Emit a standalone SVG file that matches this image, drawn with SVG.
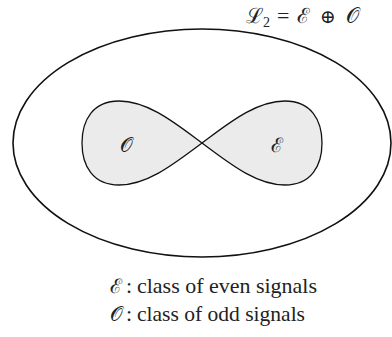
<svg xmlns="http://www.w3.org/2000/svg" width="392" height="337" viewBox="0 0 392 337">
<style>
.t{font-family:"Liberation Serif","Times New Roman",serif;fill:#222}
.m{font-family:"DejaVu Serif","Liberation Serif",serif;fill:#222}
.lobe{fill:#ebebeb;stroke:#111;stroke-width:1.3}
</style>
<rect width="392" height="337" fill="#fff"/>
<g id="space">
<ellipse cx="202" cy="143" rx="189" ry="114" fill="none" stroke="#111" stroke-width="1.6"/>
<text class="m" x="246" y="23" font-size="21">ℒ</text>
<text class="t" x="263" y="27" font-size="14">2</text>
<text class="t" x="277" y="23" font-size="22">=</text>
<text class="m" x="297" y="23" font-size="21">ℰ</text>
<text class="m" x="328" y="23" font-size="19" text-anchor="middle" font-weight="300">⊕</text>
<text class="m" x="346" y="23" font-size="21">𝒪</text>
</g>
<g id="odd">
<path class="lobe" d="M202,143 C175,123 148,101 119,101 C93,101 82,120 82,143 C82,166 93,185 119,185 C148,185 175,163 202,143 Z"/>
<text class="m" x="126" y="152" font-size="20" text-anchor="middle">𝒪</text>
</g>
<g id="even">
<path class="lobe" d="M202,143 C229,123 256,101 285,101 C311,101 322,120 322,143 C322,166 311,185 285,185 C256,185 229,163 202,143 Z"/>
<text class="m" x="277" y="152" font-size="20" text-anchor="middle">ℰ</text>
</g>
<g id="legend">
<text class="m" x="110" y="293" font-size="20">ℰ</text>
<text class="t" x="126" y="293" font-size="22">:</text>
<text class="t" x="137" y="293" font-size="22" textLength="180" lengthAdjust="spacingAndGlyphs">class of even signals</text>
<text class="m" x="110" y="321" font-size="20">𝒪</text>
<text class="t" x="126" y="321" font-size="22">:</text>
<text class="t" x="137" y="321" font-size="22" textLength="168" lengthAdjust="spacingAndGlyphs">class of odd signals</text>
</g>
</svg>
